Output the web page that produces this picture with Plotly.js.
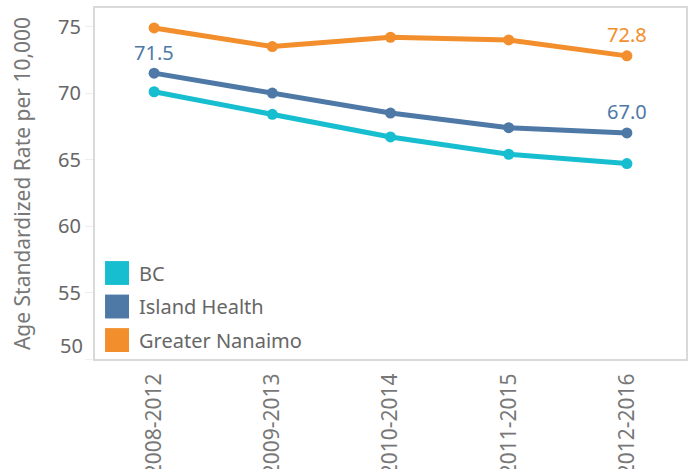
<!DOCTYPE html>
<html>
<head>
<meta charset="utf-8">
<script src="https://cdn.plot.ly/plotly-3.0.1.min.js"></script>
<style>html,body{margin:0;padding:0;background:#fff;}#chart{width:690px;height:469px;}</style>
</head>
<body>
<div id="chart"></div>
<script>
const periods = ["2008-2012", "2009-2013", "2010-2014", "2011-2015", "2012-2016"];
const seriesNames = ["BC", "Island Health", "Greater Nanaimo"];
const bcValues = [70.1, 68.4, 66.7, 65.4, 64.7];
const islandValues = [71.5, 70.0, 68.5, 67.4, 67.0];
const nanaimoValues = [74.9, 73.5, 74.2, 74.0, 72.8];
const seriesColors = ["#17becf", "#4e79a7", "#f28e2b"];
const yTickValues = [50, 55, 60, 65, 70, 75];
// labelled points: [seriesIndex, pointIndex]
const labelledPoints = [[1, 0], [1, 4], [2, 4]];

const allValues = [bcValues, islandValues, nanaimoValues];
const font = "Noto Sans, sans-serif";

const traces = allValues.map((vals, i) => ({
  x: periods, y: vals, type: "scatter", mode: "lines+markers",
  name: seriesNames[i], showlegend: false,
  line: {color: seriesColors[i], width: 5},
  marker: {color: seriesColors[i], size: 11},
  hoverinfo: "skip"
}));

const annotations = labelledPoints.map(([s, p]) => ({
  x: periods[p], y: allValues[s][p], xref: "x", yref: "y",
  text: allValues[s][p].toFixed(1), showarrow: false,
  yshift: 21, font: {family: font, size: 20, color: seriesColors[s]}
}));

// lowest tick label sits just above the axis bottom (as in the original)
annotations.push({xref: "paper", yref: "y", x: 0, y: yTickValues[0],
  xanchor: "right", yanchor: "middle", xshift: -10, yshift: 14,
  text: String(yTickValues[0]), showarrow: false,
  font: {family: font, size: 20, color: "#666"}});

// manual legend with square swatches
const shapes = [];
const legTop = 0.245, legStep = 0.0955;
seriesNames.forEach((n, i) => {
  const yc = legTop - i * legStep;
  shapes.push({type: "rect", xref: "paper", yref: "paper",
    x0: 0.017, x1: 0.0575, y0: yc - 0.034, y1: yc + 0.034,
    fillcolor: seriesColors[i], line: {width: 0}});
  annotations.push({xref: "paper", yref: "paper", x: 0.071, y: yc,
    xanchor: "left", yanchor: "middle", text: n, showarrow: false,
    font: {family: font, size: 20, color: "#666"}});
});

const layout = {
  width: 690, height: 469,
  margin: {l: 95, r: 4, t: 8, b: 110},
  paper_bgcolor: "#fff", plot_bgcolor: "#fff",
  font: {family: font, color: "#666"},
  xaxis: {
    type: "category", range: [-0.5, 4.5], tickangle: -90,
    showgrid: false, zeroline: false, showline: true, mirror: true,
    linecolor: "#d9d9d9", linewidth: 2, ticks: "",
    tickfont: {family: font, size: 21, color: "#777"}, ticklabelstandoff: 4
  },
  yaxis: {
    range: [50, 76.4], tickvals: yTickValues,
    ticktext: yTickValues.map((v, i) => i === 0 ? "" : String(v)),
    showgrid: false, zeroline: false, showline: true, mirror: true,
    linecolor: "#d9d9d9", linewidth: 2, ticks: "outside", ticklen: 8,
    tickcolor: "#eeeeee", tickwidth: 1,
    tickfont: {family: font, size: 20, color: "#666"},
    title: {text: "Age Standardized Rate per 10,000", font: {family: font, size: 21, color: "#777"}, standoff: 22}
  },
  shapes: shapes,
  annotations: annotations
};

Plotly.newPlot("chart", traces, layout, {displayModeBar: false, staticPlot: true});
</script>
</body>
</html>
